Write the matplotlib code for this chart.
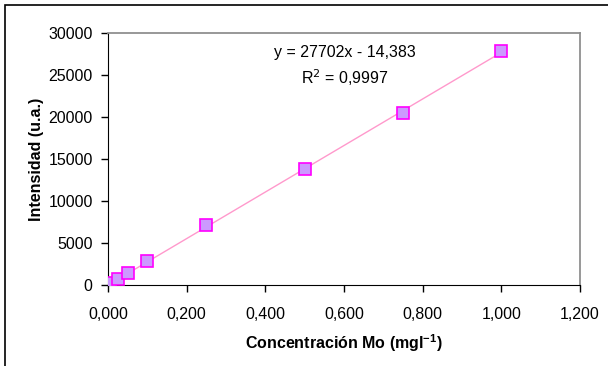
import numpy as np
import matplotlib.pyplot as plt
from matplotlib.patches import Rectangle

plt.rcParams['font.family'] = ['Liberation Sans', 'DejaVu Sans']

# calibration data
conc = [0.005, 0.025, 0.05, 0.1, 0.25, 0.5, 0.75, 1.0]
intens = [250, 700, 1400, 2800, 7100, 13800, 20500, 27900]
slope = 27702
intercept = -14.383

fig = plt.figure(figsize=(6.08, 3.66), dpi=100)
ax = fig.add_axes([108/608, 1 - 285/366, 472/608, 252/366])

# outer frame (right and bottom edges fall outside the image)
fig.patches.append(Rectangle((5/608, -10/366), 620/608, 371/366, transform=fig.transFigure,
                             fill=False, edgecolor='black', linewidth=1.2))

xfit = np.array([min(conc), max(conc)])
ax.plot(xfit, slope * xfit + intercept, color='#ff99cc', linewidth=1, zorder=2)
ax.plot(conc, intens, linestyle='none', marker='s', markersize=9,
        markerfacecolor='#cc99ff', markeredgecolor='#ff00ff', markeredgewidth=1.2, zorder=3)

ax.set_xlim(0, 1.2)
ax.set_ylim(0, 30000)
xt = np.arange(0, 1.21, 0.2)
ax.set_xticks(xt)
ax.set_xticklabels([f'{v:.3f}'.replace('.', ',') for v in xt])
ax.set_yticks(np.arange(0, 30001, 5000))

ax.tick_params(direction='out', length=5, labelsize=11.5, width=1)
ax.tick_params(axis='x', pad=11)
ax.tick_params(axis='y', pad=6)
for s in ['left', 'bottom']:
    ax.spines[s].set_color('black')
for s in ['top', 'right']:
    ax.spines[s].set_color('#909090')
    ax.spines[s].set_linewidth(1.3)

ax.set_xlabel('Concentración Mo (mgl$^{\\mathregular{-1}}$)', fontweight='bold', fontsize=11.5, labelpad=7)
ax.set_ylabel('Intensidad (u.a.)', fontweight='bold', fontsize=11.5, labelpad=3)

ax.text(0.502, 0.921, 'y = 27702x - 14,383', transform=ax.transAxes, ha='center', va='center', fontsize=11.5)
ax.text(0.502, 0.821, 'R$^2$ = 0,9997', transform=ax.transAxes, ha='center', va='center', fontsize=11.5)

fig.savefig('out.png', dpi=100)
